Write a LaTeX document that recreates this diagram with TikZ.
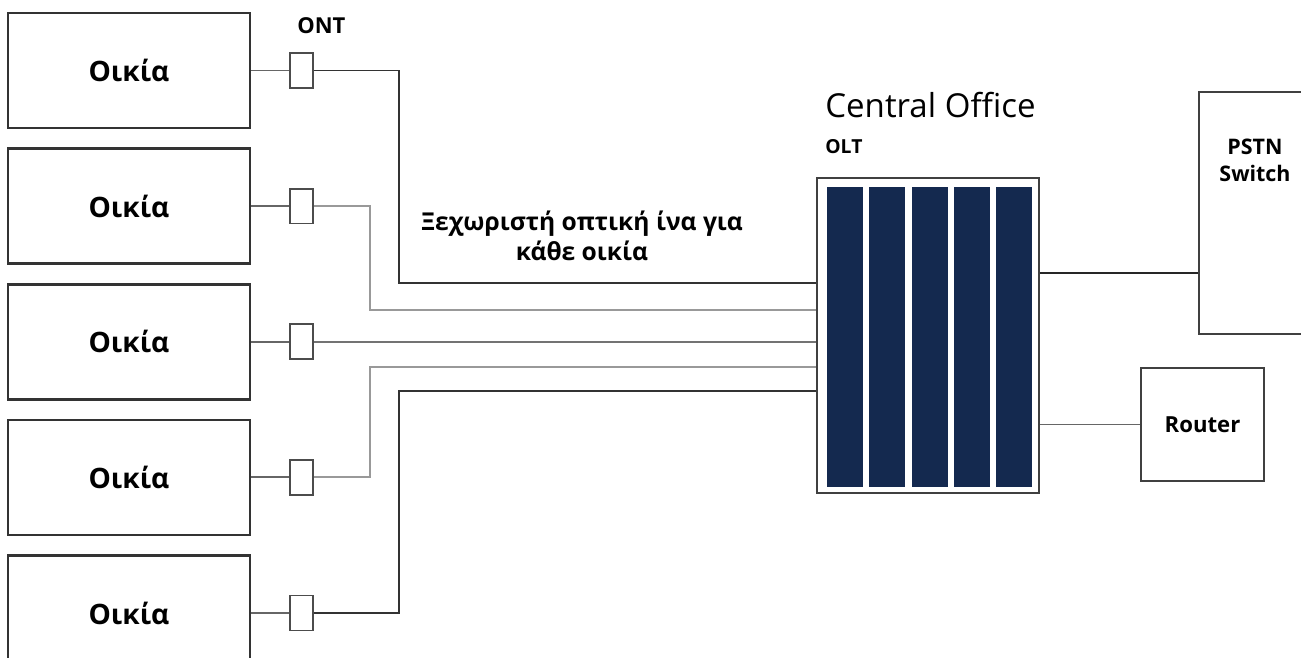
\documentclass[tikz,border=0pt]{standalone}
\usepackage{fontspec}
\setmainfont{Open Sans}
\usetikzlibrary{positioning}
\definecolor{oltnavy}{HTML}{14294F}

\begin{document}
\begin{tikzpicture}[x=0.02cm,y=-0.02cm,
    house/.style={draw=black!80,line width=1.5pt,minimum width=4.84cm,minimum height=2.3cm,
                  font=\fontsize{16}{19}\selectfont\bfseries},
    ont/.style={draw=black!70,line width=1pt,minimum width=0.46cm,minimum height=0.7cm,inner sep=0pt},
    box/.style={draw=black!75,line width=1.5pt},
    wire/.style={line width=1pt}]
  \useasboundingbox (0,0) rectangle (1301,657);

  % the five homes, each with its ONT
  \node[house] (h1) at (129,70.5) {Οικία};
  \node[house,below=0.36cm of h1] (h2) {Οικία};
  \node[house,below=0.36cm of h2] (h3) {Οικία};
  \node[house,below=0.36cm of h3] (h4) {Οικία};
  \node[house,below=0.36cm of h4] (h5) {Οικία};
  \foreach \n in {1,...,5}{
    \node[ont,right=0.76cm of h\n] (o\n) {};
    \draw[wire,black!60] (h\n) -- (o\n);
  }
  \node[anchor=base west,inner sep=0pt,font=\fontsize{12.5}{15}\selectfont\bfseries] (ontlbl) at (297,33) {ONT};

  % central office with the OLT
  \node[anchor=base west,inner sep=0pt,font=\fontsize{18.8}{22}\selectfont] (co) at (825,117) {Central Office};
  \node[anchor=base west,inner sep=0pt,font=\fontsize{11}{13}\selectfont\bfseries] (oltlbl) at (825,153) {OLT};
  \node[draw=black!75,line width=1.2pt,minimum width=4.44cm,minimum height=6.3cm] (olt) at (928,335.5) {};
  \foreach \i in {0,...,4}
    \fill[oltnavy] ({827+42.3*\i},187) rectangle +(36,300);

  % one fibre per home
  \coordinate (in1) at (olt.west |- 0,283);
  \coordinate (in2) at (olt.west |- 0,310);
  \coordinate (in3) at (olt.west |- o3);
  \coordinate (in4) at (olt.west |- 0,367);
  \coordinate (in5) at (olt.west |- 0,391);
  \draw[wire,black!80] (o1) -- ++(97.5,0) |- (in1);
  \draw[wire,black!40] (o2) -- ++(68.5,0) |- (in2);
  \draw[wire,black!55] (o3) -- (in3);
  \draw[wire,black!40] (o4) -- ++(68.5,0) |- (in4);
  \draw[wire,black!80] (o5) -- ++(97.5,0) |- (in5);
  \node[align=center,font=\fontsize{14}{17}\selectfont\bfseries] (note) at (582,236)
    {Ξεχωριστή οπτική ίνα για\\κάθε οικία};

  % PSTN switch and router
  \node[box,minimum width=2.22cm,minimum height=4.84cm] (pstn) at (1254.5,213) {};
  \node[anchor=north,align=center,font=\fontsize{12.2}{15}\selectfont\bfseries] (pstnlbl) at (1255,133) {PSTN\\Switch};
  \node[box,minimum width=2.46cm,minimum height=2.26cm,font=\fontsize{12.6}{15}\selectfont\bfseries] (router) at (1202.5,424.5) {Router};
  \coordinate (out1) at (olt.east |- 0,273);
  \draw[wire,black!85] (out1) -- (out1 -| pstn.west);
  \draw[wire,black!60] (router) -- (router -| olt.east);
\end{tikzpicture}
\end{document}
